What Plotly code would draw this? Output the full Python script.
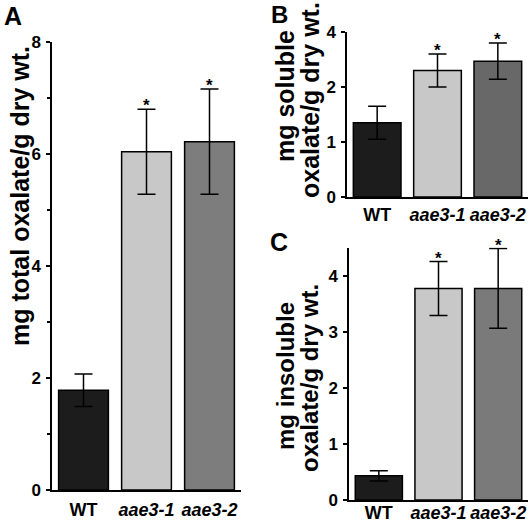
import plotly.graph_objects as go

W, H = 531, 526

categories = ["WT", "aae3-1", "aae3-2"]
tick_labels = ["<b>WT</b>", "<b><i>aae3-1</i></b>", "<b><i>aae3-2</i></b>"]

total_vals = [1.78, 6.04, 6.22]
total_err = [0.29, 0.76, 0.94]
soluble_vals = [1.35, 2.30, 2.47]
soluble_err = [0.30, 0.30, 0.33]
insoluble_vals = [0.43, 3.77, 3.77]
insoluble_err = [0.09, 0.48, 0.71]

significant = [False, True, True]

colors_A = ["#1c1c1c", "#c8c8c8", "#7d7d7d"]
colors_B = ["#1c1c1c", "#c8c8c8", "#686868"]
colors_C = ["#1c1c1c", "#c8c8c8", "#7a7a7a"]

FONT = "Liberation Sans, Arial, sans-serif"


def px_x(p):
    return p / W


def px_y(p):
    return 1 - p / H


fig = go.Figure()

panels = [
    ("x", "y", total_vals, total_err, colors_A, 9),
    ("x2", "y2", soluble_vals, soluble_err, colors_B, 9),
    ("x3", "y3", insoluble_vals, insoluble_err, colors_C, 9),
]

for xa, ya, vals, errs, cols, capw in panels:
    fig.add_trace(go.Bar(
        x=categories, y=vals, xaxis=xa, yaxis=ya,
        width=0.79,
        marker=dict(color=cols, line=dict(color="black", width=1.5)),
        error_y=dict(type="data", array=errs, visible=True, color="black",
                     thickness=1.5, width=capw),
        showlegend=False, hoverinfo="skip",
    ))
    for c, v, e, s in zip(categories, vals, errs, significant):
        if s:
            fig.add_annotation(x=c, y=v + e, xref=xa, yref=ya, text="<b>*</b>",
                               showarrow=False, yanchor="bottom", yshift=-8,
                               font=dict(family=FONT, size=17, color="black"))

axis_common = dict(showline=True, linecolor="black", linewidth=1.5,
                   showgrid=False, zeroline=False, automargin=False)
yaxis_common = dict(ticks="outside", ticklen=4, tickwidth=1.5, tickcolor="black",
                    ticklabelstandoff=2,
                    tickfont=dict(family=FONT, size=17, color="black"),
                    **axis_common)


def xaxis_cfg(domain, anchor, size, standoff):
    return dict(domain=domain, anchor=anchor, ticks="", tickmode="array",
                tickvals=categories, ticktext=tick_labels, range=[-0.5, 2.5],
                ticklabelstandoff=standoff, ticklabeloverflow="allow",
                tickfont=dict(family=FONT, size=size, color="black"),
                **axis_common)


def ytext(vals):
    return ["<b>%s</b>" % v for v in vals]


fig.update_layout(
    width=W, height=H,
    margin=dict(l=0, r=0, t=0, b=0, autoexpand=False),
    paper_bgcolor="white", plot_bgcolor="white",
    xaxis=xaxis_cfg([px_x(52), px_x(241)], "y", 18, 3),
    yaxis=dict(domain=[px_y(490), px_y(42)], anchor="x", range=[0, 8],
               tickvals=[0, 2, 4, 6, 8], ticktext=ytext([0, 2, 4, 6, 8]),
               minor=dict(tickvals=[1, 3, 5, 7], ticks="outside", ticklen=3,
                          tickwidth=1.5, tickcolor="black"),
               **yaxis_common),
    xaxis2=xaxis_cfg([px_x(347), px_x(528)], "y2", 18, 1),
    yaxis2=dict(domain=[px_y(197), px_y(32)], anchor="x2", range=[0, 3],
                tickvals=[0, 1, 2, 3], ticktext=ytext([0, 1, 2, 4]),
                **yaxis_common),
    xaxis3=xaxis_cfg([px_x(349), px_x(528)], "y3", 18, -4),
    yaxis3=dict(domain=[px_y(500), px_y(247.5)], anchor="x3", range=[0, 4.5],
                tickvals=[0, 1, 2, 3, 4], ticktext=ytext([0, 1, 2, 3, 4]),
                **yaxis_common),
)


def add_text(text, x, y, size, angle=0):
    fig.add_annotation(x=px_x(x), y=px_y(y), xref="paper", yref="paper",
                       text="<b>%s</b>" % text, showarrow=False, textangle=angle,
                       xanchor="center", yanchor="middle", borderpad=0,
                       font=dict(family=FONT, size=size, color="black"))


# axis titles
add_text("mg total oxalate/g dry wt.", 20, 196, 25, -90)
add_text("mg soluble", 285, 96, 25, -90)
add_text("oxalate/g dry wt.", 310, 100, 25, -90)
add_text("mg insoluble", 285, 376, 24, -90)
add_text("oxalate/g dry wt.", 309, 378, 24, -90)

# panel letters
add_text("A", 13, 16, 25)
add_text("B", 279, 15, 24)
add_text("C", 279, 242, 25)

fig.write_html(
    "out.html",
    config={"displayModeBar": False},
    post_script="document.body.style.margin='0';document.body.style.overflow='hidden';",
)
